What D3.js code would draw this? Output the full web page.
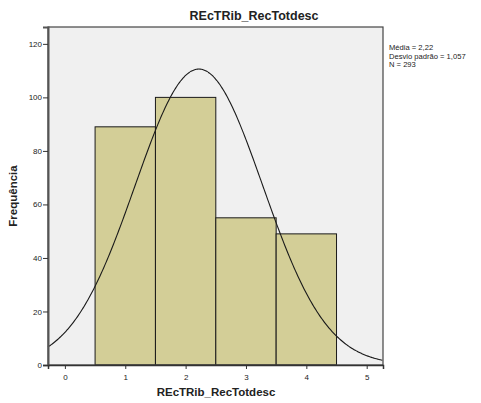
<!DOCTYPE html>
<html>
<head>
<meta charset="utf-8">
<script src="https://cdn.jsdelivr.net/npm/d3@7"></script>
<style>
  html, body { margin: 0; padding: 0; background: #ffffff; }
  svg { display: block; font-family: Arial, "Liberation Sans", sans-serif; }
</style>
</head>
<body>
<svg id="chart" width="481" height="403"></svg>
<script>
// Histogram of REcTRib_RecTotdesc with fitted normal curve
const categories = [1, 2, 3, 4];
const frequencies = [89, 100, 55, 49];
const yTicks = [0, 20, 40, 60, 80, 100, 120];
const xTicks = [0, 1, 2, 3, 4, 5];
const titleText = "REcTRib_RecTotdesc";
const xLabel = "REcTRib_RecTotdesc";
const yLabel = "Frequência";
const statLines = ["Média = 2,22", "Desvio padrão = 1,057", "N = 293"];
const mean = 2.22, sd = 1.057, n = 293, binWidth = 1;

const svg = d3.select("#chart");
const plot = { left: 48, right: 383, top: 27, bottom: 365 };

const x = d3.scaleLinear().domain([-0.28, 5.27]).range([plot.left, plot.right]);
const y = d3.scaleLinear().domain([0, 126.3]).range([plot.bottom, plot.top]);

// plot background
svg.append("rect")
  .attr("x", plot.left).attr("y", plot.top)
  .attr("width", plot.right - plot.left).attr("height", plot.bottom - plot.top)
  .attr("fill", "#f0f0f0");

// bars
svg.append("g").selectAll("rect")
  .data(categories.map((c, i) => ({ c, f: frequencies[i] })))
  .join("rect")
  .attr("x", d => x(d.c - binWidth / 2))
  .attr("y", d => y(d.f))
  .attr("width", d => x(d.c + binWidth / 2) - x(d.c - binWidth / 2))
  .attr("height", d => y(0) - y(d.f))
  .attr("fill", "#d3ce97")
  .attr("stroke", "#1a1a1a")
  .attr("stroke-width", 1);

// normal curve scaled to counts
const pdf = v => n * binWidth * Math.exp(-0.5 * ((v - mean) / sd) ** 2) / (sd * Math.sqrt(2 * Math.PI));
const xs = d3.range(-0.28, 5.2701, 0.02);
svg.append("path")
  .datum(xs)
  .attr("d", d3.line().x(v => x(v)).y(v => y(pdf(v))).curve(d3.curveBasis))
  .attr("fill", "none")
  .attr("stroke", "#1a1a1a")
  .attr("stroke-width", 1.1);

// frame
svg.append("rect")
  .attr("x", plot.left).attr("y", plot.top)
  .attr("width", plot.right - plot.left).attr("height", plot.bottom - plot.top)
  .attr("fill", "none")
  .attr("stroke", "#444")
  .attr("stroke-width", 1.2);

// y axis
const yAxis = svg.append("g")
  .attr("transform", `translate(${plot.left},0)`)
  .call(d3.axisLeft(y).tickValues(yTicks).tickSize(5).tickPadding(1).tickFormat(d3.format("d")));
yAxis.select(".domain").attr("stroke", "#555").attr("stroke-width", 2);
yAxis.selectAll(".tick line").attr("stroke", "#333");
yAxis.selectAll("text").attr("font-size", 8).attr("fill", "#222");

// x axis
const xAxis = svg.append("g")
  .attr("transform", `translate(0,${plot.bottom})`)
  .call(d3.axisBottom(x).tickValues(xTicks).tickSize(4).tickPadding(5).tickFormat(d3.format("d")));
xAxis.select(".domain").attr("stroke", "#333").attr("stroke-width", 1.5);
xAxis.selectAll(".tick line").attr("stroke", "#333");
xAxis.selectAll("text").attr("font-size", 8).attr("fill", "#222");

// titles
svg.append("text")
  .attr("x", 254).attr("y", 20)
  .attr("text-anchor", "middle")
  .attr("font-size", 12.5).attr("font-weight", "bold").attr("fill", "#222")
  .text(titleText);

svg.append("text")
  .attr("x", 216).attr("y", 396)
  .attr("text-anchor", "middle")
  .attr("font-size", 11.5).attr("font-weight", "bold").attr("fill", "#222")
  .text(xLabel);

svg.append("text")
  .attr("transform", "translate(17,196) rotate(-90)")
  .attr("text-anchor", "middle")
  .attr("font-size", 11.5).attr("font-weight", "bold").attr("fill", "#222")
  .text(yLabel);

// summary statistics
svg.append("g").selectAll("text")
  .data(statLines)
  .join("text")
  .attr("x", 389)
  .attr("y", (d, i) => 50 + i * 8.5)
  .attr("font-size", 7.6).attr("fill", "#222")
  .text(d => d);
</script>
</body>
</html>
